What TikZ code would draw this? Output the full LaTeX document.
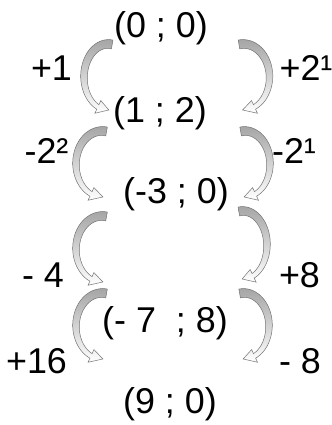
\documentclass[tikz,border=0pt]{standalone}
\usepackage{fontspec}
\setmainfont{Liberation Sans}
\newcommand\carrowshape[5]{%
 \path[arrowfill] plot[domain=-80:-245, samples=40, variable=\t]
   ({#1 + #5*(#3 + (4.5 - 2*(\t+80)/(-165)))*cos(\t)}, {#2 + (#4 + (4.5 - 2*(\t+80)/(-165)))*sin(\t)})
  -- ({#1 + #5*(#3+7)*cos(-245)}, {#2 + (#4+7)*sin(-245)})
  -- ({#1 + #5*#3*cos(-272)}, {#2 + #4*sin(-272)})
  -- ({#1 + #5*(#3-7)*cos(-245)}, {#2 + (#4-7)*sin(-245)})
  -- plot[domain=-245:-80, samples=40, variable=\t]
   ({#1 + #5*(#3 - (4.5 - 2*(\t+80)/(-165)))*cos(\t)}, {#2 + (#4 - (4.5 - 2*(\t+80)/(-165)))*sin(\t)})
  -- cycle;}
\begin{document}
\begin{tikzpicture}[x=1bp,y=-1bp,
  arrowfill/.style={draw=black!55, line width=0.5bp, top color=black!35, bottom color=white},
  txt/.style={inner sep=0pt, anchor=base, font=\fontsize{36}{40}\selectfont}]
\useasboundingbox (0,0) rectangle (332,425);
% pair nodes
\node[txt] (p0) at (161,37) {(0 ; 0)};
\node[txt] (p1) at (160,122) {(1 ; 2)};
\node[txt] (p2) at (176,203) {(-3 ; 0)};
\node[txt] (p3) at (165,332) {(- 7\ \ ; 8)};
\node[txt] (p4) at (170,413) {(9 ; 0)};
% labels
\node[txt] (l1) at (51.5,80) {+1};
\node[txt] (r1) at (306,80) {+2¹};
\node[txt] (l2) at (46.5,163) {-2²};
\node[txt] (r2) at (294,163) {-2¹};
\node[txt] (l3) at (43,287) {- 4};
\node[txt] (r3) at (299.5,287) {+8};
\node[txt] (l4) at (36.5,373) {+16};
\node[txt] (r4) at (300,373) {- 8};
% curved arrows
\carrowshape{108}{77}{24}{33}{1}
\carrowshape{243.5}{77}{26}{33}{-1}
\carrowshape{102}{164}{26}{33}{1}
\carrowshape{245}{164}{25}{33}{-1}
\carrowshape{102}{249}{26}{33}{1}
\carrowshape{243}{245}{24}{34}{-1}
\carrowshape{102}{326}{26}{33}{1}
\carrowshape{244}{326}{25}{33}{-1}
\end{tikzpicture}
\end{document}
